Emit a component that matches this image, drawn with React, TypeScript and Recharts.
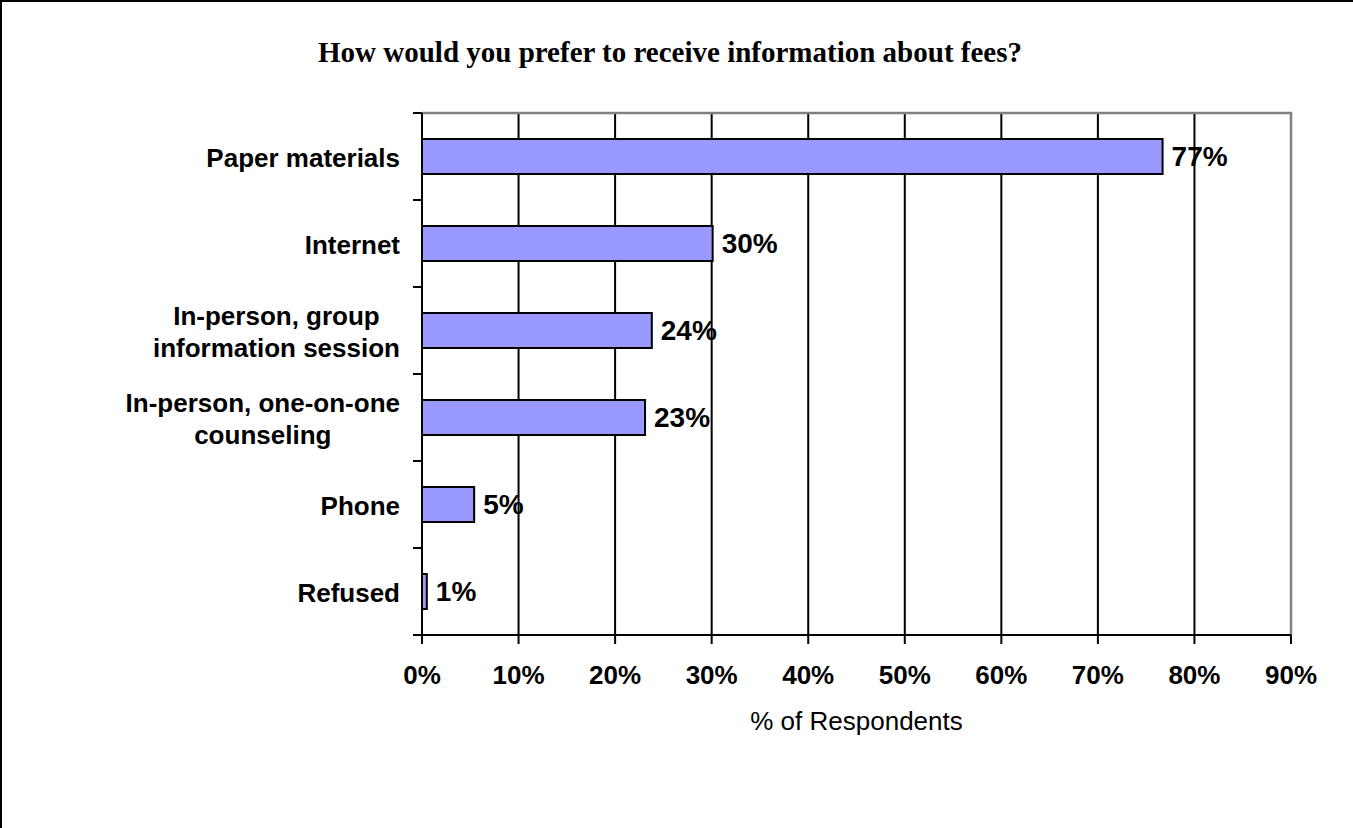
import { BarChart, Bar, XAxis, YAxis, CartesianGrid, LabelList, ReferenceArea } from 'recharts';

const categories = [
  'Paper materials',
  'Internet',
  'In-person, group\ninformation session',
  'In-person, one-on-one\ncounseling',
  'Phone',
  'Refused',
];
const percents = [76.7, 30.1, 23.8, 23.1, 5.4, 0.5];
const xTicks = [0, 10, 20, 30, 40, 50, 60, 70, 80, 90];

const data = categories.map((name, i) => ({ name, value: percents[i] }));

const W = 1353;
const H = 828;
const X_AXIS_H = 100;
const Y_AXIS_W = 422;
const margin = { top: 113, right: 62, bottom: 93, left: 0 };
const FONT = "'Liberation Sans', Arial, sans-serif";
const BAND = (H - margin.top - margin.bottom - X_AXIS_H) / categories.length;

// canvas measure so that wrapped labels can be centred on their widest line
const ctx = document.createElement('canvas').getContext('2d')!;
ctx.font = `bold 26px ${FONT}`;
const measure = (s: string) => ctx.measureText(s).width;

function CategoryTick(props: any) {
  const { y, payload, index } = props;
  const axisX = margin.left + Y_AXIS_W;
  const right = axisX - 22;
  const lines = String(payload.value).split('\n');
  const widest = Math.max(...lines.map(measure));
  const lh = 32;
  const first = y - ((lines.length - 1) * lh) / 2 + 10;
  const multi = lines.length > 1;
  return (
    <g>
      <line x1={axisX - 9} x2={axisX} y1={y - BAND / 2} y2={y - BAND / 2} stroke="#000" strokeWidth={2} />
      {index === categories.length - 1 && (
        <line x1={axisX - 9} x2={axisX} y1={y + BAND / 2} y2={y + BAND / 2} stroke="#000" strokeWidth={2} />
      )}
      <text
        fill="#000"
        fontSize={26}
        fontWeight="bold"
        fontFamily={FONT}
        textAnchor={multi ? 'middle' : 'end'}
      >
        {lines.map((l, i) => (
          <tspan key={i} x={multi ? right - widest / 2 : right} y={first + i * lh}>
            {l}
          </tspan>
        ))}
      </text>
    </g>
  );
}

const PlotBorder = (p: any) => (
  <path
    d={`M${p.x},${p.y}H${p.x + p.width}V${p.y + p.height}`}
    stroke="#808080"
    strokeWidth={2.5}
    fill="none"
  />
);

export default function App() {
  return (
    <div style={{ position: 'absolute', left: 0, top: 0, width: W, height: H, background: '#fff' }}>
      <BarChart width={W} height={H} data={data} layout="vertical" margin={margin} barSize={35}>
        <CartesianGrid horizontal={false} stroke="#000" strokeWidth={2} />
        <XAxis
          type="number"
          domain={[0, 90]}
          ticks={xTicks}
          interval={0}
          height={X_AXIS_H}
          tickFormatter={(v) => `${v}%`}
          tick={{ fill: '#000', fontSize: 26, fontWeight: 'bold', fontFamily: FONT }}
          tickSize={9}
          tickMargin={22}
          axisLine={{ stroke: '#000', strokeWidth: 2 }}
          tickLine={{ stroke: '#000', strokeWidth: 2 }}
          label={({ viewBox }: any) => (
            <text
              x={viewBox.x + viewBox.width / 2}
              y={viewBox.y + 95}
              textAnchor="middle"
              fontSize={26}
              fontFamily={FONT}
              fill="#000"
            >
              % of Respondents
            </text>
          )}
        />
        <YAxis
          type="category"
          dataKey="name"
          width={Y_AXIS_W}
          interval={0}
          tick={<CategoryTick />}
          tickLine={false}
          axisLine={{ stroke: '#000', strokeWidth: 2 }}
        />
        <ReferenceArea x1={0} x2={90} shape={PlotBorder} />
        <Bar dataKey="value" fill="#9999FF" stroke="#000" strokeWidth={2} isAnimationActive={false}>
          <LabelList
            dataKey="value"
            position="right"
            offset={9}
            formatter={(v: any) => `${Math.round(Number(v))}%`}
            style={{ fill: '#000', fontSize: 28, fontWeight: 'bold', fontFamily: FONT }}
          />
        </Bar>
      </BarChart>
      <svg width={W} height={80} style={{ position: 'absolute', left: 0, top: 0 }}>
        <text x={670} y={62} textAnchor="middle" fontSize={29} fontWeight="bold" fontFamily="'Liberation Serif', 'Times New Roman', serif">
          How would you prefer to receive information about fees?
        </text>
      </svg>
      <div
        style={{
          position: 'absolute',
          left: 0,
          top: 0,
          width: W,
          height: H,
          borderTop: '2px solid #000',
          borderLeft: '2px solid #000',
          boxSizing: 'border-box',
          pointerEvents: 'none',
        }}
      />
    </div>
  );
}
